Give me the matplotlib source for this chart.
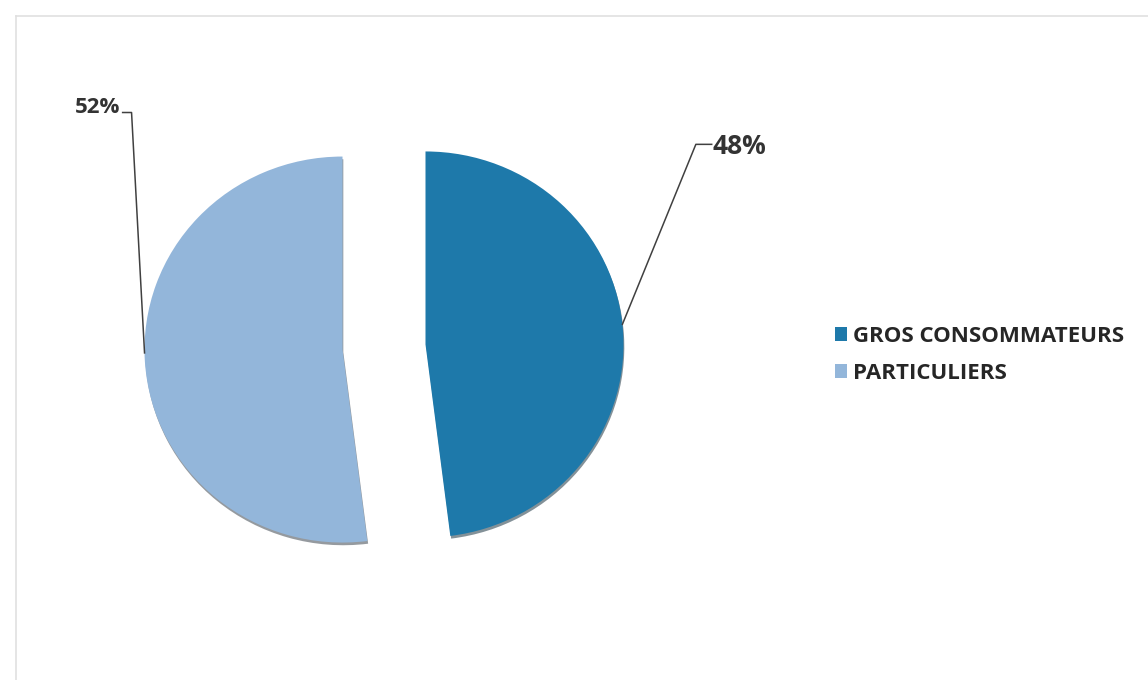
import numpy as np
import matplotlib.pyplot as plt
from matplotlib.lines import Line2D

categories = ["GROS CONSOMMATEURS", "PARTICULIERS"]
shares = [48, 52]
colors = ["#1e79aa", "#93b6da"]

W, H = 1148, 680
fig = plt.figure(figsize=(W / 100, H / 100), dpi=100)
fig.patch.set_facecolor("white")

# light frame of the pasted chart
fig.add_artist(Line2D([16 / W, 16 / W], [0, 1 - 16 / H], color="#e0e0e0", lw=1.2))
fig.add_artist(Line2D([16 / W, 1], [1 - 16 / H, 1 - 16 / H], color="#e0e0e0", lw=1.2))

# pie axes: centre ~ (384, 347) px, scanned pie is a little wider than tall
rx, ry = 198, 193
lim = 1.3
ax = fig.add_axes([(384 - lim * rx) / W, (H - 347 - lim * ry) / H,
                   2 * lim * rx / W, 2 * lim * ry / H])
ax.axis("off")

wedges, _ = ax.pie(shares, colors=colors, startangle=90, counterclock=False,
                   explode=(0.21, 0.21), radius=1.0,
                   shadow={"ox": 0.003, "oy": -0.01, "shade": 0.7},
                   wedgeprops=dict(linewidth=0))
ax.set_xlim(-lim, lim)
ax.set_ylim(-lim, lim)
ax.set_aspect("auto")

lab_font = ["Open Sans", "DejaVu Sans"]

# 48% label, leader from right edge of the dark slice
w = wedges[0]
cx, cy = w.center
a = np.deg2rad(6)
p0 = (cx + w.r * np.cos(a), cy + w.r * np.sin(a))
elbow = (1.575, 1.05)
ax.plot([p0[0], elbow[0], elbow[0] + 0.08], [p0[1], elbow[1], elbow[1]],
        color="#404040", lw=1.1, clip_on=False)
ax.text(elbow[0] + 0.085, elbow[1] - 0.01, f"{shares[0]}%", ha="left", va="center",
        fontsize=19, fontweight="bold", color="#333333", family=lab_font)

# 52% label, leader from left edge of the light slice
w = wedges[1]
cx, cy = w.center
a = np.deg2rad(181)
p1 = (cx + w.r * np.cos(a), cy + w.r * np.sin(a))
elbow = (-1.275, 1.215)
ax.plot([p1[0], elbow[0], elbow[0] - 0.045], [p1[1], elbow[1], elbow[1]],
        color="#404040", lw=1.1, clip_on=False)
ax.text(elbow[0] - 0.055, elbow[1] + 0.025, f"{shares[1]}%", ha="right", va="center",
        fontsize=16, fontweight="bold", color="#333333", family=lab_font)

leg = fig.legend(wedges, categories, loc="center left",
                 bbox_to_anchor=(815 / W, 1 - 355 / H), frameon=False,
                 handlelength=0.55, handleheight=0.55, handletextpad=0.25,
                 labelspacing=0.72,
                 prop=dict(family=lab_font, weight="bold", size=16))
for t in leg.get_texts():
    t.set_color("#262626")

fig.savefig("out.png", dpi=100, facecolor="white")
